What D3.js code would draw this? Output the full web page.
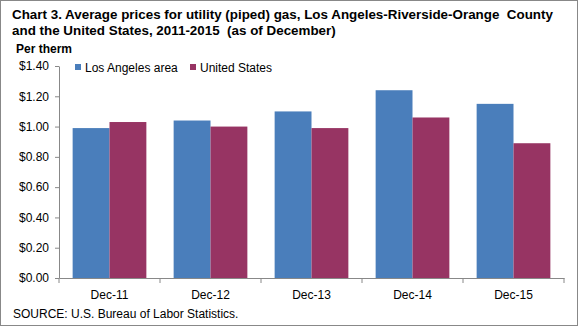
<!DOCTYPE html>
<html><head><meta charset="utf-8">
<script src="https://cdn.jsdelivr.net/npm/d3@7"></script>
<style>body{margin:0;background:#fff;} text{font-family:Arial,"Liberation Sans",sans-serif;white-space:pre;}</style>
</head><body>
<svg id="c" width="579" height="326"></svg>
<script>
const categories = ["Dec-11","Dec-12","Dec-13","Dec-14","Dec-15"];
const seriesNames = ["Los Angeles area","United States"];
const laValues = [0.99, 1.04, 1.10, 1.24, 1.15];
const usValues = [1.03, 1.00, 0.99, 1.06, 0.89];
const yTicks = [0, 0.2, 0.4, 0.6, 0.8, 1.0, 1.2, 1.4];
const colors = ["#4A7EBB", "#973463"];

const svg = d3.select("#c");
svg.append("rect").attr("x",0.5).attr("y",0.5).attr("width",577).attr("height",325)
  .attr("fill","#fff").attr("stroke","#888").attr("stroke-width",1);

const x0 = d3.scaleBand().domain(categories).range([59, 564]).paddingInner(0).paddingOuter(0);
const x1 = d3.scaleBand().domain([0,1]).range([0, x0.bandwidth()]).paddingOuter(0.37).paddingInner(0);
const y = d3.scaleLinear().domain([0, 1.4]).range([278, 66]);

// bars
const data = categories.map((c,i)=>({c, v:[laValues[i], usValues[i]]}));
const g = svg.append("g");
data.forEach(d=>{
  d.v.forEach((v,j)=>{
    g.append("rect").attr("x", x0(d.c)+x1(j)).attr("y", y(v))
      .attr("width", x1.bandwidth()).attr("height", y(0)-y(v)).attr("fill", colors[j]);
  });
});

// y axis
const yAx = svg.append("g").attr("transform","translate(59,0)")
  .call(d3.axisLeft(y).tickValues(yTicks).tickSize(4).tickSizeOuter(0).tickFormat(d=>"$"+d.toFixed(2)));
yAx.select(".domain").attr("stroke","#888");
yAx.selectAll(".tick line").attr("stroke","#888");
yAx.selectAll("text").attr("font-size","12px").attr("fill","#000").attr("x",-10);

// x axis
const xAx = svg.append("g").attr("transform","translate(0,278)")
  .call(d3.axisBottom(x0).tickSize(0).tickSizeOuter(0));
xAx.select(".domain").attr("stroke","#888");
xAx.selectAll("text").attr("font-size","12px").attr("fill","#000").attr("dy","1.5em");
// category boundary ticks
const bounds = categories.map(c=>x0(c)).concat([x0(categories[categories.length-1])+x0.bandwidth()]);
svg.append("g").selectAll("line").data(bounds).join("line")
  .attr("x1",d=>d).attr("x2",d=>d).attr("y1",278).attr("y2",283).attr("stroke","#888");

// title
const title = svg.append("text").attr("x",12).attr("y",19).attr("font-size","13.4px").attr("font-weight","bold");
title.append("tspan").text("Chart 3. Average prices for utility (piped) gas, Los Angeles-Riverside-Orange  County");
title.append("tspan").attr("x",12).attr("dy",16).text("and the United States, 2011-2015  (as of December)");
svg.append("text").attr("x",16).attr("y",53).attr("font-size","12px").attr("font-weight","bold").text("Per therm");

// legend
const leg = svg.append("g");
const legX = [75, 190];
seriesNames.forEach((n,j)=>{
  leg.append("rect").attr("x",legX[j]).attr("y",64).attr("width",6).attr("height",6).attr("fill",colors[j]);
  leg.append("text").attr("x",legX[j]+10).attr("y",72).attr("font-size","12px").text(n);
});

// source
svg.append("text").attr("x",13).attr("y",318).attr("font-size","12px").text("SOURCE: U.S. Bureau of Labor Statistics.");
</script>
</body></html>
